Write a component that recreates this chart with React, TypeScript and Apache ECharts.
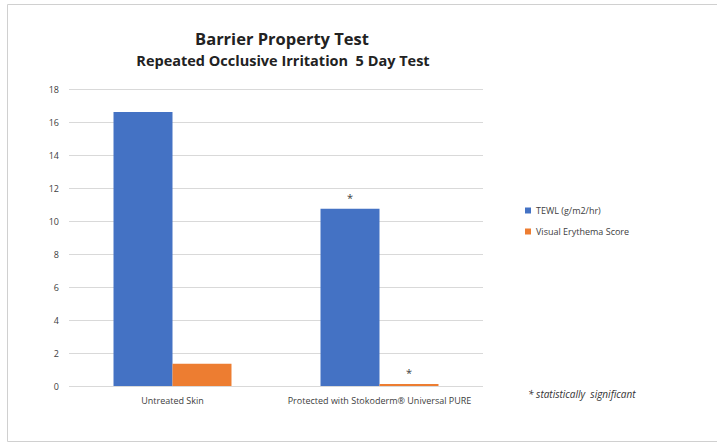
import React, { useEffect, useRef } from "react";
import * as echarts from "echarts";

const categories = ["Untreated Skin", "Protected with Stokoderm® Universal PURE"];
const tewl = [16.6, 10.75];
const erythema = [1.35, 0.12];
const tewlMarks = ["", "*"];
const erythemaMarks = ["", "*"];
const seriesNames = ["TEWL (g/m2/hr)", "Visual Erythema Score"];
const FONT = "'Open Sans', 'Noto Sans', sans-serif";

export default function App() {
  const ref = useRef<HTMLDivElement>(null);
  useEffect(() => {
    const chart = echarts.init(ref.current!, null, { renderer: "svg" });
    const mkData = (vals: number[], marks: string[]) =>
      vals.map((v, i) => ({
        value: v,
        label: {
          show: marks[i] !== "",
          position: "top",
          formatter: marks[i],
          color: "#404040",
          fontSize: 11,
          distance: 6,
          fontFamily: FONT,
        },
      }));
    chart.setOption({
      animation: false,
      backgroundColor: "#ffffff",
      title: [
        {
          text: "Barrier Property Test",
          left: 277,
          top: 25,
          textAlign: "center",
          textStyle: { fontFamily: FONT, fontSize: 16.5, fontWeight: "bold", color: "#222" },
        },
        {
          text: "Repeated Occlusive Irritation  5 Day Test",
          left: 278,
          top: 48,
          textAlign: "center",
          textStyle: { fontFamily: FONT, fontSize: 14.5, fontWeight: "bold", color: "#222" },
        },
      ],
      legend: {
        orient: "vertical",
        left: 520,
        top: 201,
        itemWidth: 6,
        itemHeight: 6,
        itemGap: 12,
        icon: "rect",
        textStyle: { fontFamily: FONT, fontSize: 9, color: "#404040" },
        data: seriesNames,
      },
      grid: { left: 69, right: 234, top: 89, bottom: 58, containLabel: false },
      xAxis: {
        type: "category",
        data: categories,
        axisLine: { show: false },
        axisTick: { show: false },
        axisLabel: { interval: 0, fontFamily: FONT, fontSize: 9, color: "#404040", margin: 10 },
      },
      yAxis: {
        type: "value",
        min: 0,
        max: 18,
        interval: 2,
        axisLine: { show: false },
        axisTick: { show: false },
        splitLine: { lineStyle: { color: "#d9d9d9", width: 1 } },
        axisLabel: { fontFamily: FONT, fontSize: 9, color: "#404040", margin: 10 },
      },
      series: [
        {
          name: seriesNames[0],
          type: "bar",
          data: mkData(tewl, tewlMarks),
          itemStyle: { color: "#4472C4" },
          barGap: "0%",
          barCategoryGap: "43%",
        },
        {
          name: seriesNames[1],
          type: "bar",
          data: mkData(erythema, erythemaMarks),
          itemStyle: { color: "#ED7D31" },
        },
      ],
      graphic: [
        {
          type: "rect",
          shape: { x: 7.5, y: 4.5, width: 712, height: 437 },
          style: { fill: "none", stroke: "#d0d0d0", lineWidth: 1 },
          silent: true,
        },
        {
          type: "text",
          x: 528,
          y: 389,
          style: {
            text: "* statistically  significant",
            fontFamily: FONT,
            fontSize: 10,
            fontStyle: "italic",
            fill: "#333",
          },
        },
      ],
    });
    return () => chart.dispose();
  }, []);
  return (
    <div
      ref={ref}
      style={{ position: "absolute", left: 0, top: 0, width: 717, height: 444 }}
    />
  );
}
